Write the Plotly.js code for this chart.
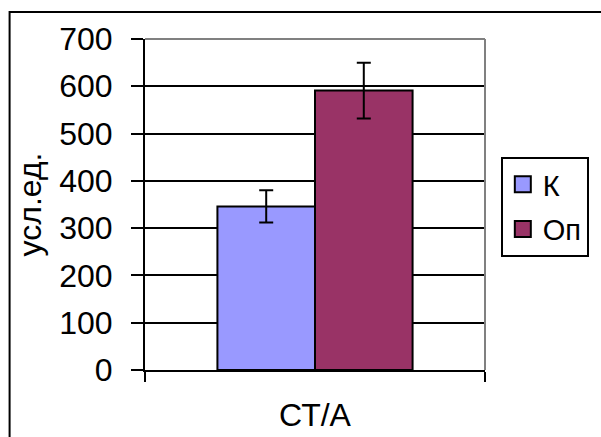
<!DOCTYPE html>
<html>
<head>
<meta charset="utf-8">
<script src="https://cdn.plot.ly/plotly-3.0.1.min.js"></script>
<style>html,body{margin:0;padding:0;background:#fff;}#chart{width:601px;height:437px;}</style>
</head>
<body>
<div id="chart"></div>
<script>
const categories = ["СТ/А"];
const seriesNames = ["К", "Оп"];
const valuesK = [346];
const valuesOp = [591];
const errK = [34];
const errOp = [59];
const seriesColors = ["#9999FF", "#993366"];

const FONT = "Liberation Sans, Arial, sans-serif";
const FS = 32;
const L = 145, R = 112, T = 39, B = 67;
const W = 601, H = 437;
const pw = W - L - R, ph = H - T - B;
const px = v => (v - L) / pw;
const py = v => (H - B - v) / ph;

function barTrace(name, vals, errs, color) {
  return {
    type: "bar", x: categories, y: vals, name: name, showlegend: false,
    marker: {color: color, line: {color: "#000", width: 2}},
    error_y: {type: "data", array: errs, visible: true, color: "#000", thickness: 2, width: 7}
  };
}
function legendTrace(name, color, grp) {
  return {
    type: "scatter", mode: "markers", x: [null], y: [null], name: name,
    legendgroup: grp, showlegend: true,
    marker: {symbol: "square", size: 16, color: color, line: {color: "#000", width: 2}}
  };
}

const data = [
  barTrace(seriesNames[0], valuesK, errK, seriesColors[0]),
  barTrace(seriesNames[1], valuesOp, errOp, seriesColors[1]),
  legendTrace(seriesNames[0], seriesColors[0], "a"),
  legendTrace(seriesNames[1], seriesColors[1], "b")
];

const layout = {
  width: W, height: H,
  margin: {l: L, r: R, t: T, b: B, pad: 0},
  paper_bgcolor: "#fff", plot_bgcolor: "#fff",
  font: {family: FONT, size: FS, color: "#000"},
  barmode: "group", bargap: 0.426, bargroupgap: 0,
  showlegend: true,
  legend: {
    x: px(505), y: py(157), xanchor: "left", yanchor: "top",
    bordercolor: "#000", borderwidth: 2, bgcolor: "#fff",
    font: {family: FONT, size: 29, color: "#000"},
    traceorder: "grouped", tracegroupgap: 4, itemsizing: "trace"
  },
  xaxis: {
    type: "category", automargin: false,
    showline: true, linecolor: "#000", linewidth: 2,
    ticks: "outside", tickson: "boundaries", ticklen: 10, tickwidth: 2, tickcolor: "#000",
    showgrid: false, zeroline: false, ticklabelstandoff: 16,
    tickfont: {family: FONT, size: FS, color: "#000"}
  },
  yaxis: {
    range: [0, 700], dtick: 100, automargin: false,
    showline: true, linecolor: "#000", linewidth: 2,
    ticks: "outside", ticklen: 12, tickwidth: 2, tickcolor: "#000",
    showgrid: true, gridcolor: "#000", gridwidth: 2, zeroline: false,
    ticklabelstandoff: 12,
    tickfont: {family: FONT, size: FS, color: "#000"},
    title: {text: "усл.ед.", font: {family: FONT, size: FS, color: "#000"}, standoff: 8}
  },
  shapes: [
    {type: "line", xref: "paper", yref: "paper", x0: 0, x1: 1, y0: 1, y1: 1, line: {color: "#808080", width: 2}, layer: "above"},
    {type: "line", xref: "paper", yref: "paper", x0: 1, x1: 1, y0: 0, y1: 1, line: {color: "#808080", width: 2}, layer: "above"},
    {type: "rect", xref: "paper", yref: "paper", x0: px(8), x1: px(610), y0: py(445), y1: py(12), line: {color: "#000", width: 2}, layer: "below"}
  ]
};

Plotly.newPlot("chart", data, layout, {displayModeBar: false, staticPlot: true});
</script>
</body>
</html>
